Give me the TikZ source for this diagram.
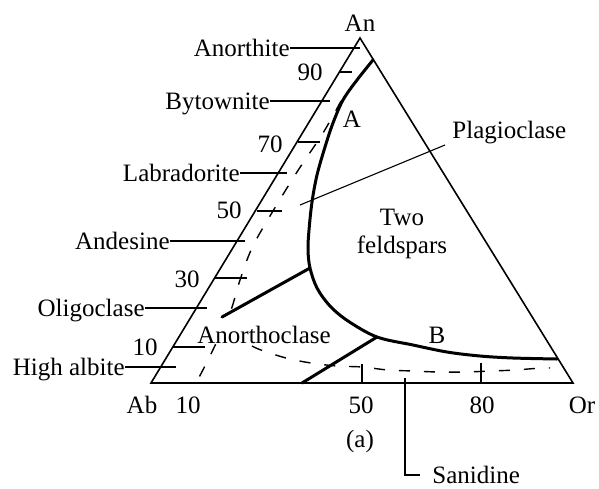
\documentclass[tikz,border=0pt]{standalone}
\usepackage{fontspec}
\setmainfont{Liberation Serif}
\begin{document}
\begin{tikzpicture}[x=0.5pt,y=-0.5pt,
  txt/.style={font=\fontsize{12.5}{15}\selectfont, inner sep=0pt},
  lbl/.style={txt, text height=8pt, text depth=0pt},
  edgeline/.style={line width=0.8pt, line join=miter},
  bold/.style={line width=1.5pt, line cap=round, line join=round},
  lead/.style={line width=0.55pt},
  tick/.style={line width=0.6pt},
  dsh/.style={line width=0.7pt, dash pattern=on 5.5pt off 7pt}]
\useasboundingbox (0,0) rectangle (599,488);
% triangle
\coordinate (Ab) at (151,383);
\coordinate (Or) at (573,383);
\coordinate (An) at (360,38);
\draw[edgeline] (Ab) -- (An) -- (Or) -- cycle;
% vertex and axis labels
\node[txt, anchor=base] (lAn) at (360,31) {An};
\node[txt, anchor=base] (lAb) at (142,413) {Ab};
\node[txt, anchor=base] (b10) at (188,413) {10};
\node[txt, anchor=base] (b50) at (361,413) {50};
\node[txt, anchor=base] (b80) at (482,413) {80};
\node[txt, anchor=base] (lOr) at (582,413) {Or};
\node[txt, anchor=base] (cap) at (360,447) {(a)};
% left numbers and ticks
\node[txt, anchor=base east] (n90) at (323,80) {90};
\node[txt, anchor=base east] (n70) at (283,152) {70};
\node[txt, anchor=base east] (n50) at (242,218) {50};
\node[txt, anchor=base east] (n30) at (200,287) {30};
\node[txt, anchor=base east] (n10) at (158,355) {10};
\draw[tick] (340,72) -- (352,72);
\draw[tick] (298,142) -- (320,142);
\draw[tick] (257,211) -- (282,211);
\draw[tick] (215,278) -- (247,278);
\draw[tick] (173,347) -- (205,347);
% bottom ticks
\draw[tick] (362,364) -- (362,383);
\draw[tick] (481,363) -- (481,383);
% left labels with leaders
\node[lbl, anchor=east] (anorthite) at (290,48) {Anorthite};
\node[lbl, anchor=east] (bytownite) at (270,101) {Bytownite};
\node[lbl, anchor=east] (labradorite) at (240,173) {Labradorite};
\node[lbl, anchor=east] (andesine) at (170,241) {Andesine};
\node[lbl, anchor=east] (oligoclase) at (145,308) {Oligoclase};
\node[lbl, anchor=east] (highalbite) at (125,367) {High albite};
\coordinate (eAnorthite) at (360,48);
\coordinate (eBytownite) at (330,101);
\coordinate (eLabradorite) at (287,173);
\coordinate (eAndesine) at (245,241);
\coordinate (eOligoclase) at (207,308);
\coordinate (eHighalbite) at (176,367);
\draw[lead] (anorthite) -- (eAnorthite);
\draw[lead] (bytownite) -- (eBytownite);
\draw[lead] (labradorite) -- (eLabradorite);
\draw[lead] (andesine) -- (eAndesine);
\draw[lead] (oligoclase) -- (eOligoclase);
\draw[lead] (highalbite) -- (eHighalbite);
% dashed solvus lines
\draw[dsh] plot[smooth, tension=0.6] coordinates {(341,101) (323,133) (297,172) (270,216) (252,248) (240,280) (231,310) (219,337) (207,362) (196,383)};
\draw[dsh] plot[smooth, tension=0.6] coordinates {(252,346) (261,350) (286,358) (311,363) (337,366) (362,367) (388,370) (413,371) (438,372) (464,372) (491,371) (515,370) (541,368) (550,368)};
% label that hides the solvus behind it
\node[txt, anchor=base west, fill=white, text height=15pt, text depth=0pt] (anorthoclase) at (197,343) {Anorthoclase};
% bold boundary
\draw[bold] plot[smooth, tension=0.55] coordinates {(373,60) (357,80) (343,100) (333,123) (325,147) (317,175) (312,202) (309,230) (308,250) (310,268) (317,288) (330,306) (348,321) (377,337) (413,345) (447,352) (480,356) (513,358) (557,359)};
\coordinate (jA) at (310,268);
\coordinate (jL) at (222,317);
\coordinate (jB) at (377,337);
\coordinate (bB) at (302,383);
\draw[bold] (jL) -- (jA);
\draw[bold] (jB) -- (bB);
% interior labels
\node[txt, anchor=base] (lA) at (352,127) {A};
\node[txt, anchor=base] (lB) at (437,343) {B};
\node[txt, anchor=base] (two) at (402,225) {Two};
\node[txt, anchor=base] (feld) at (402,253) {feldspars};
\node[txt, anchor=base west] (plag) at (452,138) {Plagioclase};
\coordinate (plS) at (300,205);
\coordinate (plE) at (445,145);
\draw[lead] (plS) -- (plE);
% Sanidine
\node[lbl, anchor=west, inner xsep=6pt] (sanidine) at (420,475) {Sanidine};
\coordinate (sanTop) at (405,378);
\draw[lead] (sanTop) |- (sanidine);
\end{tikzpicture}
\end{document}
